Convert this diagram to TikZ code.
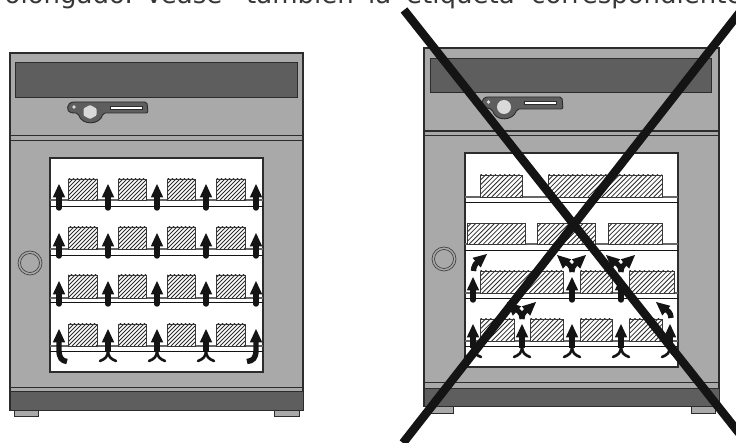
\documentclass[tikz,border=0pt]{standalone}
\usepackage{fontspec}
\setmainfont{DejaVu Sans}
\definecolor{body}{HTML}{A9A9A9}
\definecolor{panel}{HTML}{5E5E5E}
\definecolor{ink}{HTML}{141414}
\tikzset{
  edge/.style={draw=ink!90!white,line width=0.9pt},
  cabinet/.style={edge,fill=body},
  dark/.style={edge,fill=panel},
  word/.style={anchor=base west,inner sep=0pt,font=\fontsize{26}{30}\selectfont,text=ink!85!white},
  cross/.style={draw=ink,line width=8.5pt},
  shaft/.style={draw=ink,line width=5.4pt},
  foot/.style={draw=ink,line width=2.6pt,line cap=round},
}
\newcommand{\hatchsecond}{-36}
% hatched box
\newcommand{\hatchbox}[4]{%x1 y1 x2 y2
  \begin{scope}
    \clip (#1,#2) rectangle (#3,#4);
    \fill[white] (#1,#2) rectangle (#3,#4);
    \foreach \k in {-40,\hatchsecond,...,140}{
      \draw[line width=0.8pt,ink!90!white] ({#1+\k},#4) -- ++(30,-30);
    }
  \end{scope}
  \draw[line width=0.9pt,ink!85!white] (#1,#2) rectangle (#3,#4);
}
\newcommand{\headat}[3]{%tip x, tip y, angle
  \fill[ink,shift={(#1,#2)},rotate=#3] (0,0) -- (6.3,13.5) -- (-6.3,13.5) -- cycle;
}
\newcommand{\straightarrow}[3]{%x, tip, bottom
  \headat{#1}{#2}{0}
  \draw[shaft,line cap=round] (#1,#2+9) -- (#1,#3);
}
\newcommand{\splitarrow}[3]{%x, tip, flare bottom
  \headat{#1}{#2}{0}
  \draw[shaft] (#1,#2+9) -- (#1,#3-9);
  \draw[foot] (#1,#3-11) .. controls (#1,#3-4) and (#1-3,#3-2) .. (#1-8,#3);
  \draw[foot] (#1,#3-11) .. controls (#1,#3-4) and (#1+3,#3-2) .. (#1+8,#3);
}
\newcommand{\batarrow}[2]{%x, bottom y
  \draw[ink,line width=5pt] (#1-9,#2-11) .. controls (#1-5,#2-9) and (#1,#2-7) .. (#1,#2);
  \draw[ink,line width=5pt] (#1+9,#2-11) .. controls (#1+5,#2-9) and (#1,#2-7) .. (#1,#2);
  \headat{#1-15}{#2-17}{48}
  \headat{#1+14}{#2-17}{-48}
}
\begin{document}
\begin{tikzpicture}[x=1pt,y=-1pt]
\useasboundingbox (0,0) rectangle (736,443);
\fill[white] (0,0) rectangle (736,443);
% clipped text line
\begin{scope}
\clip (0,0) rectangle (736,443);
\node[word,anchor=base east] (w1) at (133,4) {prolongado.};
\node[word] (w2) at (145,4) {Véase};
\node[word] (w3) at (246,4) {también};
\node[word] (w4) at (368,4) {la};
\node[word] (w5) at (406,4) {etiqueta};
\node[word] (w6) at (531,4) {correspondiente};
\end{scope}

% ---------- left cabinet ----------
\draw[cabinet] (14,410) rectangle (38,416);
\draw[cabinet] (274,410) rectangle (299,416);
\draw[cabinet,line width=1.2pt] (10,53) rectangle (303,410);
\draw[dark] (15,62) rectangle (297,97);
\draw[edge] (10,135) -- (303,135) (10,140) -- (303,140);
\draw[dark] (10,391) rectangle (303,410);
\draw[edge] (10,387) -- (303,387);
% handle
\draw[dark,rounded corners=2pt] (74,102) -- (147,102) -- (148,113) -- (103,113)
  .. controls (100,125) and (82,126) .. (78,113) -- (73,113)
  .. controls (66,112) and (66,102) .. (74,102);
\fill[white!85!black,rounded corners=1pt] (90,105) -- (96.5,108.5) -- (96.5,115.5) -- (90,119) -- (83.5,115.5) -- (83.5,108.5) -- cycle;
\fill[white!85!black] (74,107) circle (1.8);
\draw[edge,fill=white,line width=0.6pt] (110,106) rectangle (142,109);
% knob
\draw[line width=0.7pt,ink!80!white] (30,263) circle (12) (30,263) circle (9.5);
% window
\draw[edge,fill=white,line width=1.2pt] (50,158) rectangle (263,372);
\foreach \ya/\yb in {200/206,249/255,298/302,346/351}{
  \draw[ink!65!white,line width=1.1pt] (50,\ya) -- (263,\ya);
  \draw[ink,line width=0.9pt] (50,\yb) -- (263,\yb);
}
\foreach \yt/\yb in {179/200,227/249,275/298,324/346}{
  \hatchbox{68}{\yt}{97}{\yb}
  \hatchbox{118}{\yt}{146}{\yb}
  \hatchbox{167}{\yt}{195}{\yb}
  \hatchbox{216}{\yt}{245}{\yb}
}
\foreach \x in {59,108,157,206,256}{
  \straightarrow{\x}{184}{208}
  \straightarrow{\x}{233}{256}
  \straightarrow{\x}{281}{304}
}
\foreach \x in {108,157,206}{\splitarrow{\x}{329}{361}}
\headat{59}{329}{0}
\draw[shaft] (59,338) -- (59,350) .. controls (59,358) and (62,361) .. (67,361.5);
\headat{256}{329}{0}
\draw[shaft] (256,338) -- (256,350) .. controls (256,358) and (253,361) .. (247,361.5);

% ---------- right cabinet ----------
\draw[cabinet] (430,406) rectangle (453,413);
\draw[cabinet] (691,406) rectangle (715,413);
\draw[cabinet,line width=1.2pt] (424,48) rectangle (719,406);
\draw[dark] (430,58) rectangle (711,92);
\draw[edge,line width=1.3pt] (424,131) -- (719,131);
\draw[edge] (424,135) -- (719,135);
\draw[dark] (424,388) rectangle (719,406);
\draw[edge] (424,382) -- (719,382);
% handle
\draw[dark,rounded corners=2pt] (488,97) -- (562,97) -- (563,109) -- (517,109)
  .. controls (513,121) and (496,122) .. (492,109) -- (487,108)
  .. controls (480,106) and (481,97) .. (488,97);
\fill[white!85!black] (504,107) circle (7);
\fill[white!85!black] (488.5,102) circle (1.8);
\draw[edge,fill=white,line width=0.6pt] (524,101) rectangle (556,104);
% knob
\draw[line width=0.7pt,ink!80!white] (444,259) circle (12) (444,259) circle (9.5);
% window
\draw[edge,fill=white,line width=1.2pt] (465,153) rectangle (678,367);
\foreach \ya/\yb in {197/202,244/250,293/298,341/346}{
  \draw[ink!65!white,line width=1.1pt] (465,\ya) -- (678,\ya);
  \draw[ink,line width=0.9pt] (465,\yb) -- (678,\yb);
}
\renewcommand{\hatchsecond}{-35.3}
\hatchbox{480}{175}{522}{197}
\hatchbox{548}{175}{662}{197}
\hatchbox{467}{223.5}{525}{244}
\hatchbox{537}{223.5}{595}{244}
\hatchbox{608}{223.5}{662}{244}
\hatchbox{480}{271}{563}{293}
\hatchbox{580}{271}{612}{293}
\hatchbox{629}{271}{674}{293}
\hatchbox{480}{319}{514}{341}
\hatchbox{530}{319}{563}{341}
\hatchbox{580}{319}{612}{341}
\hatchbox{629}{319}{662}{341}
\foreach \x in {473,572,621}{\straightarrow{\x}{277}{300}}
\foreach \x in {473,522,572,621,670}{\splitarrow{\x}{324}{357}}
% curved single arrows
\headat{487}{254}{-50}
\draw[shaft] (473.5,271) .. controls (473.5,266) and (476,262) .. (481,260);
\headat{656}{302}{50}
\draw[shaft] (671,318) .. controls (671,313) and (668,310) .. (663,308);
% forked arrows
\batarrow{572}{272}
\batarrow{621}{272}
\batarrow{522}{319}

% ---------- cross ----------
\coordinate (c1) at (404,10);
\coordinate (c2) at (739,433);
\coordinate (c3) at (740,12);
\coordinate (c4) at (403,443);
\draw[cross] (c1) -- (c2);
\draw[cross] (c3) -- (c4);
\end{tikzpicture}
\end{document}
